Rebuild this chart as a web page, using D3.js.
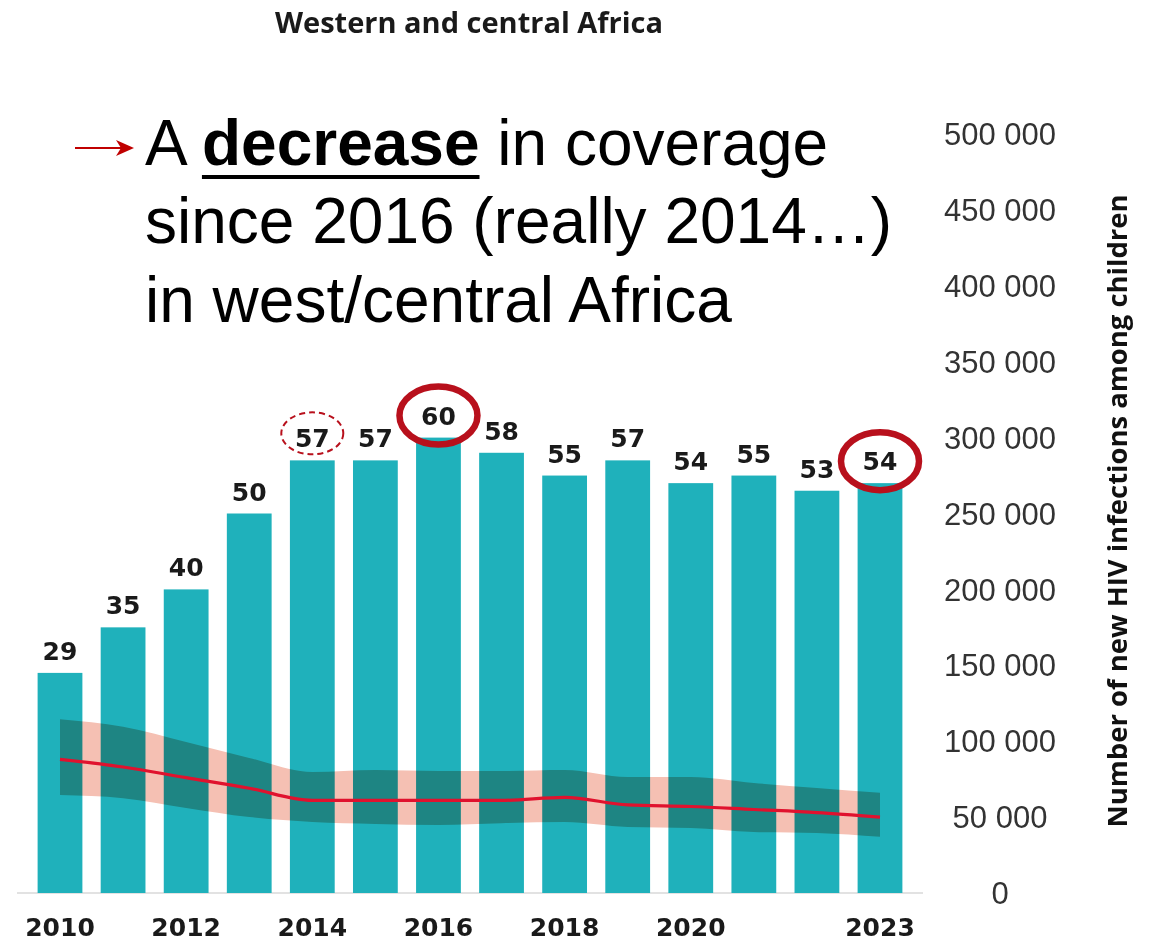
<!DOCTYPE html>
<html>
<head>
<meta charset="utf-8">
<script src="https://cdn.jsdelivr.net/npm/d3@7"></script>
<style>
  html, body { margin: 0; padding: 0; background: #fff; }
  svg { display: block; }
</style>
</head>
<body>
<svg id="chart" width="1152" height="943"></svg>
<script>
// Years shown on the chart
const years = [2010, 2011, 2012, 2013, 2014, 2015, 2016, 2017, 2018, 2019, 2020, 2021, 2022, 2023];
// ART coverage among pregnant women (%), drawn as bars
const coverage = [29, 35, 40, 50, 57, 57, 60, 58, 55, 57, 54, 55, 53, 54];
// New HIV infections among children: estimate and uncertainty bounds
const infections = [88000, 83000, 76000, 69000, 61000, 61000, 61000, 61000, 63000, 58000, 57000, 55000, 53000, 50000];
const infectionsLow = [64500, 62500, 56000, 50000, 46800, 45500, 44800, 46000, 46800, 43500, 42800, 40200, 39500, 37000];
const infectionsHigh = [114500, 109500, 99500, 89000, 79700, 81000, 80400, 80400, 81000, 76400, 76400, 72500, 69200, 66000];
// Axis tick labels
const xTickYears = [2010, 2012, 2014, 2016, 2018, 2020, 2023];
const yTicks = [0, 50000, 100000, 150000, 200000, 250000, 300000, 350000, 400000, 450000, 500000];
// Highlighted years
const circledYears = [2016, 2023];
const dashedYears = [2014];

const svg = d3.select("#chart");

const step = (880 - 60) / (years.length - 1);
const x = d3.scaleBand()
  .domain(years)
  .range([60 - step / 2, 880 + step / 2])
  .paddingInner(0.29)
  .paddingOuter(0.145);
const cx = d => x(d) + x.bandwidth() / 2;

const y = d3.scaleLinear().domain([0, 500000]).range([893, 134]);
// coverage percentage shares the same vertical extent (0–100 %)
const yPct = d3.scaleLinear().domain([0, 100]).range([893, 134]);

const teal = "#1fb1bb";
const red = "#b8101c";

// Chart title
svg.append("text")
  .attr("x", 469).attr("y", 33)
  .attr("text-anchor", "middle")
  .attr("font-family", "'Open Sans', Lato, sans-serif")
  .attr("font-weight", 700)
  .attr("font-size", 28)
  .attr("fill", "#1a1a1a")
  .attr("textLength", 388)
  .attr("lengthAdjust", "spacingAndGlyphs")
  .text("Western and central Africa");

// Baseline
svg.append("line")
  .attr("x1", 17).attr("x2", 923)
  .attr("y1", y(0)).attr("y2", y(0))
  .attr("stroke", "#d9d9d9").attr("stroke-width", 1.5);

// Coverage bars
svg.append("g").selectAll("rect")
  .data(years)
  .join("rect")
  .attr("x", d => x(d))
  .attr("width", x.bandwidth())
  .attr("y", (d, i) => yPct(coverage[i]))
  .attr("height", (d, i) => yPct(0) - yPct(coverage[i]))
  .attr("fill", teal);

// Uncertainty band (multiplied so it darkens where it crosses bars)
const area = d3.area()
  .x((d, i) => cx(years[i]))
  .y0((d, i) => y(infectionsLow[i]))
  .y1((d, i) => y(infectionsHigh[i]))
  .curve(d3.curveMonotoneX);
svg.append("path")
  .datum(years)
  .attr("d", area)
  .attr("fill", "#f5c0b3")
  .style("mix-blend-mode", "multiply");

// Estimate line
const line = d3.line()
  .x((d, i) => cx(years[i]))
  .y((d, i) => y(infections[i]))
  .curve(d3.curveMonotoneX);
svg.append("path")
  .datum(years)
  .attr("d", line)
  .attr("fill", "none")
  .attr("stroke", "#e0122e")
  .attr("stroke-width", 3.2);

// Value labels on bars
svg.append("g").selectAll("text")
  .data(years)
  .join("text")
  .attr("x", d => cx(d))
  .attr("y", (d, i) => yPct(coverage[i]) - 13)
  .attr("text-anchor", "middle")
  .attr("font-family", "'DejaVu Sans', Verdana, sans-serif")
  .attr("font-weight", 700)
  .attr("font-size", 25)
  .attr("fill", "#1a1a1a")
  .text((d, i) => coverage[i]);

// Solid highlight ellipses
svg.append("g").selectAll("ellipse")
  .data(circledYears)
  .join("ellipse")
  .attr("cx", d => cx(d))
  .attr("cy", d => yPct(coverage[years.indexOf(d)]) - 22)
  .attr("rx", 39).attr("ry", 29)
  .attr("fill", "none")
  .attr("stroke", red)
  .attr("stroke-width", 6.5);

// Dashed highlight ellipse
svg.append("g").selectAll("ellipse")
  .data(dashedYears)
  .join("ellipse")
  .attr("cx", d => cx(d))
  .attr("cy", d => yPct(coverage[years.indexOf(d)]) - 27)
  .attr("rx", 31).attr("ry", 21)
  .attr("fill", "none")
  .attr("stroke", red)
  .attr("stroke-width", 2)
  .attr("stroke-dasharray", "6,4");

// X-axis year labels
svg.append("g").selectAll("text")
  .data(xTickYears)
  .join("text")
  .attr("x", d => cx(d))
  .attr("y", 936)
  .attr("text-anchor", "middle")
  .attr("font-family", "'DejaVu Sans', Verdana, sans-serif")
  .attr("font-weight", 700)
  .attr("font-size", 25)
  .attr("fill", "#1a1a1a")
  .text(d => d);

// Right axis tick labels
const fmt = v => d3.format(",")(v).replace(/,/g, " ");
svg.append("g").selectAll("text")
  .data(yTicks)
  .join("text")
  .attr("x", 1000)
  .attr("y", d => y(d))
  .attr("dy", "0.36em")
  .attr("text-anchor", "middle")
  .attr("font-family", "'Liberation Sans', Arial, sans-serif")
  .attr("font-size", 31)
  .attr("fill", "#333")
  .text(fmt);

// Right axis title
svg.append("text")
  .attr("transform", "translate(1127,511) rotate(-90)")
  .attr("text-anchor", "middle")
  .attr("font-family", "'Open Sans', Lato, sans-serif")
  .attr("font-weight", 700)
  .attr("font-size", 27)
  .attr("fill", "#111")
  .attr("textLength", 633)
  .attr("lengthAdjust", "spacingAndGlyphs")
  .text("Number of new HIV infections among children");

// Annotation arrow
svg.append("line")
  .attr("x1", 75).attr("x2", 128)
  .attr("y1", 148).attr("y2", 148)
  .attr("stroke", "#c00000").attr("stroke-width", 2);
svg.append("path")
  .attr("d", "M134,148 L116,140 L121,148 L116,156 Z")
  .attr("fill", "#c00000");

// Annotation text
const noteFont = "'Liberation Sans', Arial, sans-serif";
const noteSize = 64;
const l1 = svg.append("text")
  .attr("x", 145).attr("y", 165)
  .attr("font-family", noteFont)
  .attr("font-size", noteSize)
  .attr("fill", "#000");
l1.append("tspan").text("A ");
l1.append("tspan").attr("font-weight", 700).text("decrease");
l1.append("tspan").text(" in coverage");

svg.append("text")
  .attr("x", 145).attr("y", 243)
  .attr("font-family", noteFont)
  .attr("font-size", noteSize)
  .attr("fill", "#000")
  .text("since 2016 (really 2014…)");

svg.append("text")
  .attr("x", 145).attr("y", 322)
  .attr("font-family", noteFont)
  .attr("font-size", noteSize)
  .attr("fill", "#000")
  .text("in west/central Africa");

// Underline beneath the bold word
const t = l1.node();
const u0 = t.getStartPositionOfChar(2).x;
const u1 = t.getEndPositionOfChar(9).x;
svg.append("rect")
  .attr("x", u0).attr("width", u1 - u0)
  .attr("y", 175).attr("height", 4)
  .attr("fill", "#000");
</script>
</body>
</html>
